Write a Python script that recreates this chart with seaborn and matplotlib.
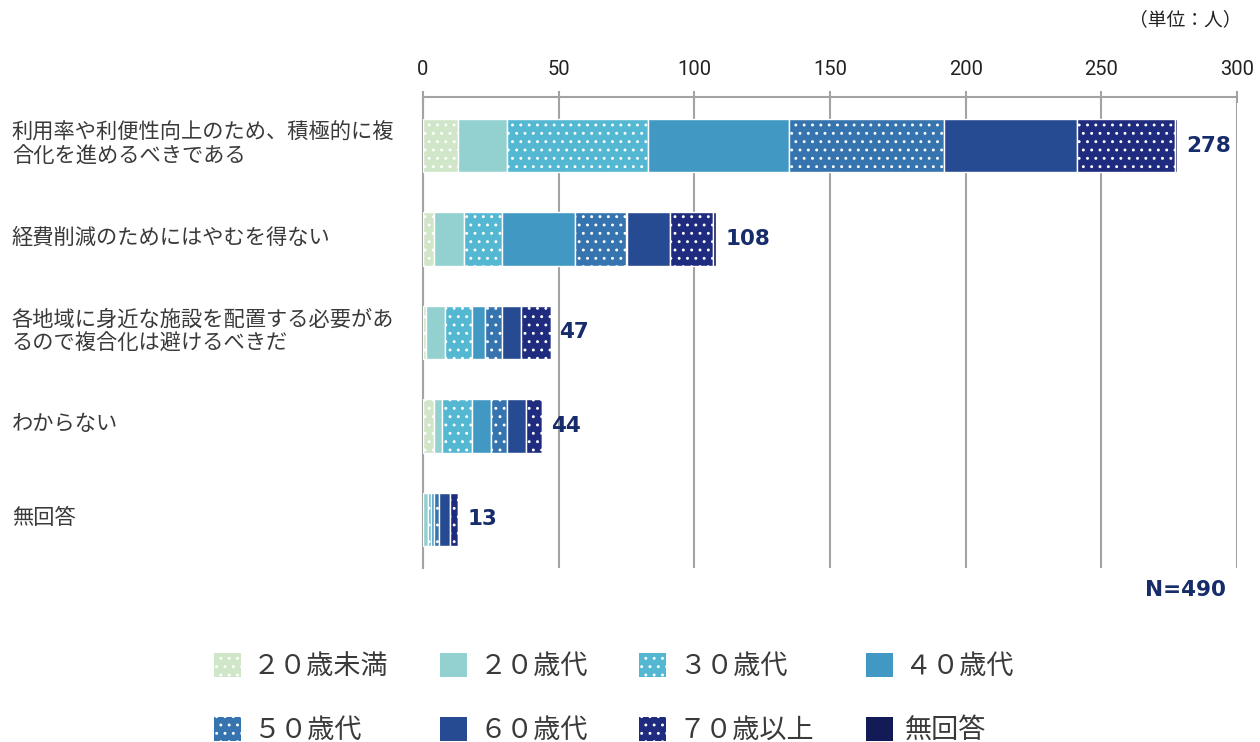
import numpy as np
import pandas as pd
import matplotlib
matplotlib.use("Agg")
import matplotlib.pyplot as plt
import seaborn as sns
from matplotlib.patches import Patch
from matplotlib.transforms import ScaledTranslation

# ---------------- data ----------------
categories = [
    "利用率や利便性向上のため、積極的に複\n合化を進めるべきである",
    "経費削減のためにはやむを得ない",
    "各地域に身近な施設を配置する必要があ\nるので複合化は避けるべきだ",
    "わからない",
    "無回答",
]
series_names = ["２０歳未満", "２０歳代", "３０歳代", "４０歳代",
                "５０歳代", "６０歳代", "７０歳以上", "無回答"]
under20 = [13, 4, 1, 4, 0]
age20s = [18, 11, 7, 3, 2]
age30s = [52, 14, 10, 11, 1]
age40s = [52, 27, 5, 7, 1]
age50s = [57, 19, 6, 6, 2]
age60s = [49, 16, 7, 7, 4]
age70plus = [36, 16, 11, 6, 3]
no_answer = [1, 1, 0, 0, 0]
x_ticks = [0, 50, 100, 150, 200, 250, 300]
n_label = "N=490"
unit_label = "（単位：人）"

series_values = [under20, age20s, age30s, age40s, age50s, age60s, age70plus, no_answer]

# ---------------- style ----------------
sns.set_style("white")
plt.rcParams["font.family"] = ["Noto Sans CJK JP", "DejaVu Sans"]
plt.rcParams["hatch.linewidth"] = 0.9

colors = ["#cfe6c8", "#93d0d0", "#55b8d2", "#4098c3",
          "#3574ae", "#274b92", "#1e2b7e", "#131b57"]
hatches = ["..", None, "..", None, "..", None, "..", None]
grid_color = "#a3a3a3"
navy = "#172c6a"
text_color = "#3a3a3a"

fig = plt.figure(figsize=(12.6, 7.42), dpi=100)
ax = fig.add_axes([423 / 1260, 1 - 568 / 742, (1237 - 423) / 1260, (568 - 97) / 742])

cum = np.zeros(len(categories))
for name, vals, col, h in zip(series_names, series_values, colors, hatches):
    sns.barplot(x=vals, y=categories, orient="h", color=col, saturation=1,
                left=cum.copy(), width=0.57, edgecolor="white", linewidth=1.0,
                hatch=h, ax=ax, zorder=3)
    cum = cum + np.array(vals)

totals = cum
for i, t in enumerate(totals):
    ax.annotate(f"{int(t)}", xy=(t, i), xytext=(6.5, 0), textcoords="offset points",
                va="center", ha="left", fontsize=15.5, fontweight="bold",
                color=navy, family="DejaVu Sans")

ax.set_xlim(0, 300)
ax.set_ylim(len(categories) - 0.48, -0.52)
ax.set_xlabel("")
ax.set_ylabel("")

ax.xaxis.tick_top()
ax.set_xticks(x_ticks)
ax.set_xticklabels([str(v) for v in x_ticks], family="Roboto", fontsize=14.5, color="#222222")
ax.tick_params(axis="x", direction="inout", length=8, width=1.5, color=grid_color, pad=9)
ax.tick_params(axis="y", length=0, pad=296)
shift_up = ScaledTranslation(0, 4 / 100, fig.dpi_scale_trans)
for lab in ax.get_yticklabels():
    lab.set_horizontalalignment("left")
    lab.set_fontsize(15.3)
    lab.set_color(text_color)
    lab.set_linespacing(1.1)
    lab.set_transform(lab.get_transform() + shift_up)

ax.xaxis.grid(True, color=grid_color, linewidth=1.5)
ax.yaxis.grid(False)
ax.set_axisbelow(True)
for s in ["right", "bottom"]:
    ax.spines[s].set_visible(False)
for s in ["top", "left"]:
    ax.spines[s].set_visible(True)
    ax.spines[s].set_color(grid_color)
    ax.spines[s].set_linewidth(1.5)

fig.text(1241 / 1260, 1 - 20 / 742, unit_label, ha="right", va="center",
         fontsize=13.5, color="#222222")
fig.text(1226 / 1260, 1 - 590 / 742, n_label, ha="right", va="center",
         fontsize=15.5, fontweight="bold", color=navy, family="DejaVu Sans")

handles = [Patch(facecolor=c, edgecolor="white", hatch=h, linewidth=0.0)
           for c, h in zip(colors, hatches)]
order = [0, 4, 1, 5, 2, 6, 3, 7]
leg = fig.legend([handles[i] for i in order], [series_names[i] for i in order],
                 ncol=4, loc="center", bbox_to_anchor=(0.487, 0.059), frameon=False,
                 fontsize=19.5, handlelength=1.0, handleheight=1.0, handletextpad=0.45,
                 columnspacing=1.9, labelspacing=1.35)
for t in leg.get_texts():
    t.set_color(text_color)

fig.savefig("out.png", dpi=100)
